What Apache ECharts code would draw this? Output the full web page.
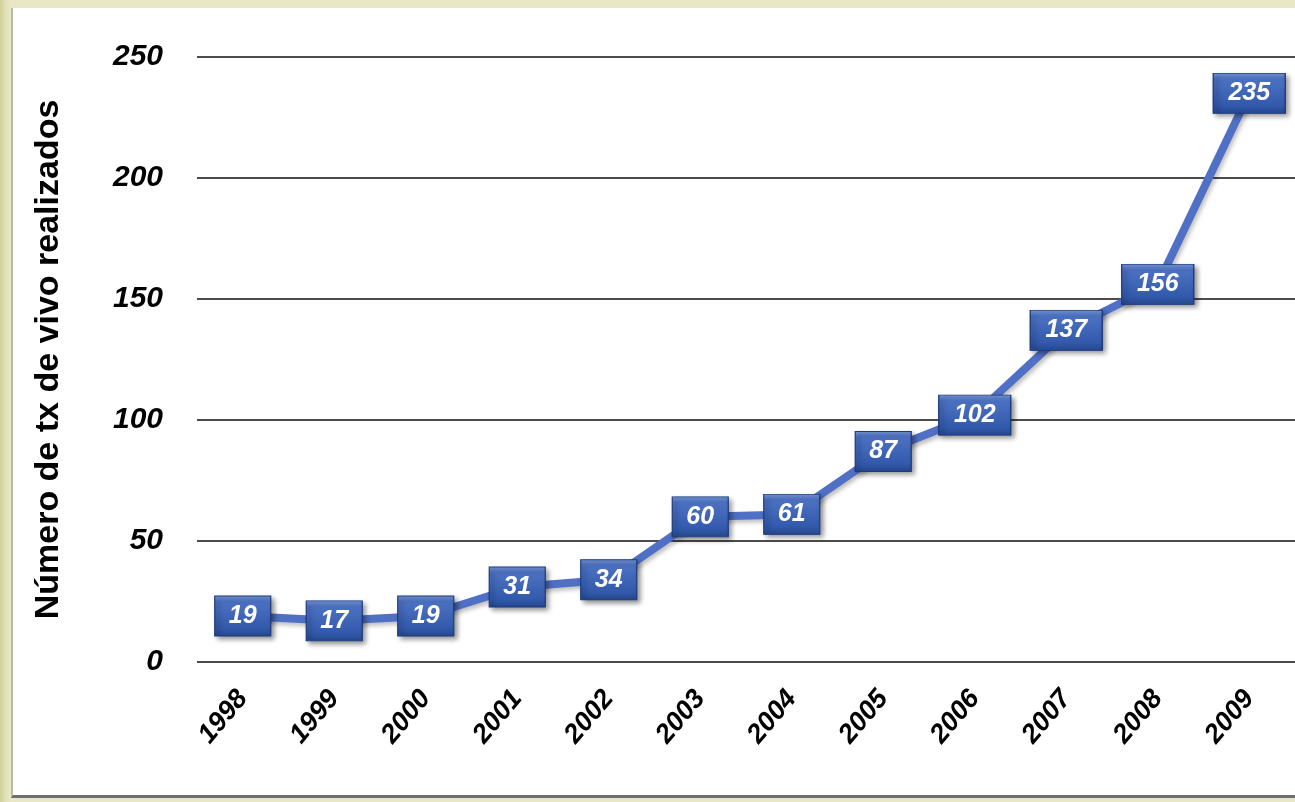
<!DOCTYPE html>
<html>
<head>
<meta charset="utf-8">
<script src="https://cdn.jsdelivr.net/npm/echarts@6/dist/echarts.min.js"></script>
<style>
  html, body { margin: 0; padding: 0; }
  body {
    width: 1295px; height: 802px; overflow: hidden;
    background: linear-gradient(90deg, #cfcf98 0px, #e2e1b8 6px, #e8e7c6 10px);
    position: relative;
  }
  #panel {
    position: absolute; left: 11px; top: 8px; right: 0; bottom: 4px;
    background: #ffffff;
    border-left: 2px solid #b8b8a8;
    border-bottom: 3px solid #6e6e6e;
    box-sizing: border-box;
  }
  #chart { position: absolute; left: 0; top: 0; width: 1295px; height: 802px; }
</style>
</head>
<body>
<div id="panel"></div>
<div id="chart"></div>
<script>
// Transplantes realizados por año
const years = ['1998','1999','2000','2001','2002','2003','2004','2005','2006','2007','2008','2009'];
const counts = [19, 17, 19, 31, 34, 60, 61, 87, 102, 137, 156, 235];
const yTicks = [0, 50, 100, 150, 200, 250];
const yAxisTitle = 'Número de tx de vivo realizados';

const chart = echarts.init(document.getElementById('chart'), null, { renderer: 'canvas' });

const boxFill = new echarts.graphic.LinearGradient(0, 0, 0, 1, [
  { offset: 0, color: '#7596da' },
  { offset: 0.15, color: '#4d72c4' },
  { offset: 0.8, color: '#3259ab' },
  { offset: 1, color: '#25478f' }
]);

const points = counts.map(v => ({
  value: v,
  symbolSize: String(v).length > 2 ? [72, 40] : [56, 40]
}));

chart.setOption({
  animation: false,
  grid: { left: 197, right: -6, top: 57, bottom: 140 },
  xAxis: {
    type: 'category',
    data: years,
    boundaryGap: true,
    axisLine: { show: false },
    axisTick: { show: false },
    axisLabel: {
      rotate: 50,
      margin: 32,
      color: '#000',
      fontFamily: 'Liberation Sans, Arial, sans-serif',
      fontWeight: 'bold',
      fontStyle: 'italic',
      fontSize: 27
    }
  },
  yAxis: {
    type: 'value',
    min: yTicks[0],
    max: yTicks[yTicks.length - 1],
    interval: 50,
    name: yAxisTitle,
    nameLocation: 'middle',
    nameGap: 131,
    nameRotate: 90,
    nameTextStyle: {
      color: '#000',
      fontFamily: 'Liberation Sans, Arial, sans-serif',
      fontWeight: 'bold',
      fontSize: 34
    },
    axisLine: { show: false },
    axisTick: { show: false },
    axisLabel: {
      margin: 34,
      color: '#000',
      fontFamily: 'Liberation Sans, Arial, sans-serif',
      fontWeight: 'bold',
      fontStyle: 'italic',
      fontSize: 30
    },
    splitLine: { lineStyle: { color: '#111', width: 1.5 } }
  },
  series: [{
    type: 'line',
    data: points,
    symbol: 'rect',
    lineStyle: {
      color: '#4f70c4',
      width: 8,
      shadowColor: 'rgba(0,0,0,0.25)',
      shadowBlur: 4,
      shadowOffsetX: 2,
      shadowOffsetY: 3
    },
    itemStyle: {
      color: boxFill,
      borderColor: '#1d3a7a',
      borderWidth: 1,
      shadowColor: 'rgba(0,0,0,0.45)',
      shadowBlur: 5,
      shadowOffsetX: 3,
      shadowOffsetY: 3
    },
    label: {
      show: true,
      position: 'inside',
      color: '#ffffff',
      fontFamily: 'Liberation Sans, Arial, sans-serif',
      fontWeight: 'bold',
      fontStyle: 'italic',
      fontSize: 25
    },
    z: 3
  }]
});
</script>
</body>
</html>
